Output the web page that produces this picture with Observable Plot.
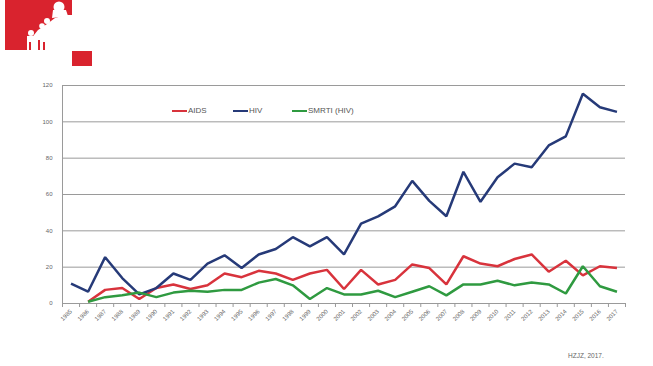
<!DOCTYPE html>
<html>
<head>
<meta charset="utf-8">
<script src="https://cdn.jsdelivr.net/npm/d3@7"></script>
<script src="https://cdn.jsdelivr.net/npm/@observablehq/plot@0.6"></script>
<style>
  html, body { margin: 0; padding: 0; background: #fff; }
  #wrap { position: relative; width: 653px; height: 366px; overflow: hidden; font-family: "Liberation Sans", Arial, sans-serif; }
  #chart { position: absolute; left: 0; top: 0; }
  #logo { position: absolute; left: 0; top: 0; }
  #legend { position: absolute; top: 106px; left: 0; width: 653px; height: 14px; }
  .item { position: absolute; top: 0; display: flex; align-items: center; font-size: 8px; color: #555; white-space: nowrap; }
  .sw { width: 15px; height: 2px; margin-right: 1px; }
  #caption { position: absolute; left: 568px; top: 352px; font-size: 6.5px; color: #666; }
</style>
</head>
<body>
<div id="wrap">
  <div id="chart"></div>
  <svg id="logo" width="100" height="70" viewBox="0 0 100 70">
    <path d="M5,0 L72,0 L72,15 L65,15 L55,18 L47,24 L38,30 L30,40 L27,50 L5,50 Z" fill="#d9232e"/>
    <circle cx="59" cy="7" r="5.5" fill="#fff"/>
    <path d="M53,10 L66,10 L68,16 L52,18 Z" fill="#fff"/>
    <circle cx="47" cy="21" r="3" fill="#fff"/>
    <circle cx="42" cy="26" r="2.8" fill="#fff"/>
    <circle cx="31" cy="33" r="3" fill="#fff"/>
    <path d="M27,36 L35,36 L34,50 L27,50 Z" fill="#fff"/>
    <path d="M29,42 L31,42 L31,50 L29,50 Z" fill="#d9232e"/>
    <path d="M38,40 L40,40 L40,50 L38,50 Z" fill="#d9232e"/>
    <path d="M43,42 L45,42 L45,50 L43,50 Z" fill="#d9232e"/>
    <rect x="72" y="51" width="20" height="15" fill="#d9232e"/>
  </svg>
  <div id="legend"></div>
  <div id="caption"></div>
</div>
<script>
const years = d3.range(1985, 2018);
const seriesNames = ["AIDS", "HIV", "SMRTI (HIV)"];
const seriesColors = ["#d8333c", "#263a78", "#2f9a40"];
const yTicks = [0, 20, 40, 60, 80, 100, 120];
const captionText = "HZJZ, 2017.";

const hiv = [11, 6.5, 25.5, 14, 5, 8.5, 16.5, 13, 22, 26.5, 19.5, 27, 30, 36.5, 31.5, 36.5, 27, 44, 48, 53.5, 67.5, 56.5, 48, 72.5, 56, 69.5, 77, 75, 87, 92, 115.5, 108, 105.5];
const aids = [null, 1, 7.5, 8.5, 2.5, 8.5, 10.5, 8, 10, 16.5, 14.5, 18, 16.5, 13, 16.5, 18.5, 8, 18.5, 10.5, 13, 21.5, 19.5, 10.5, 26, 22, 20.5, 24.5, 27, 17.5, 23.5, 15.5, 20.5, 19.5];
const smrti = [null, 1, 3.5, 4.5, 6, 3.5, 6, 7, 6.5, 7.5, 7.5, 11.5, 13.5, 10, 2.5, 8.5, 5, 5, 7, 3.5, 6.5, 9.5, 4.5, 10.5, 10.5, 12.5, 10, 11.5, 10.5, 5.5, 20.5, 9.5, 6.5];

const valuesBySeries = [aids, hiv, smrti];
const rows = [];
seriesNames.forEach((s, si) => {
  years.forEach((yr, i) => {
    const v = valuesBySeries[si][i];
    if (v != null) rows.push({ series: s, year: yr, value: v });
  });
});

const boundaries = years.map(y => y - 0.5).concat([years[years.length - 1] + 0.5]);

const chart = Plot.plot({
  width: 653,
  height: 366,
  marginTop: 85,
  marginBottom: 63,
  marginLeft: 62,
  marginRight: 28,
  style: { fontFamily: "Liberation Sans, Arial, sans-serif", background: "#fff", color: "#555" },
  x: { domain: [1984.5, 2017.5], label: null },
  y: { domain: [0, 120], label: null },
  color: { domain: seriesNames, range: seriesColors },
  marks: [
    Plot.gridY(yTicks, { stroke: "#9a9a9a", strokeOpacity: 1, strokeWidth: 1 }),
    Plot.frame({ anchor: "left", stroke: "#9a9a9a" }),
    Plot.axisY({ ticks: yTicks, tickSize: 0, tickPadding: 10, fontSize: 6, fill: "#666", label: null }),
    Plot.axisX({ ticks: boundaries, tickFormat: () => "", tickSize: 4, stroke: "#9a9a9a", label: null }),
    Plot.axisX({ ticks: years, tickFormat: d => String(d), tickSize: 0, tickRotate: -45, tickPadding: 7, fontSize: 6, fill: "#666", label: null }),
    Plot.line(rows, { x: "year", y: "value", z: "series", stroke: "series", strokeWidth: 2.5, strokeLinejoin: "miter", strokeLinecap: "butt" })
  ]
});
document.getElementById("chart").appendChild(chart);

// Legend
const legendLefts = [172, 233, 292];
const legend = document.getElementById("legend");
seriesNames.forEach((s, i) => {
  const item = document.createElement("div");
  item.className = "item";
  item.style.left = legendLefts[i] + "px";
  const sw = document.createElement("span");
  sw.className = "sw";
  sw.style.background = seriesColors[i];
  const t = document.createElement("span");
  t.textContent = s;
  item.appendChild(sw);
  item.appendChild(t);
  legend.appendChild(item);
});
document.getElementById("caption").textContent = captionText;
</script>
</body>
</html>
